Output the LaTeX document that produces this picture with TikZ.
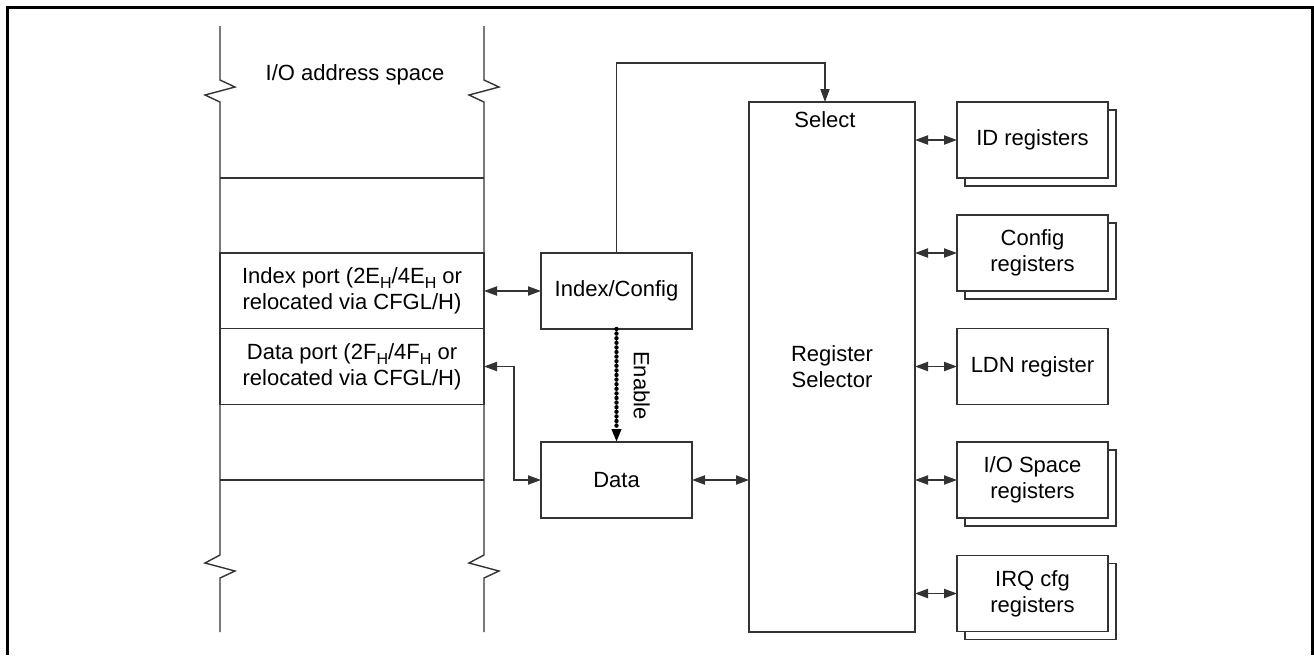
\documentclass[tikz,border=0pt]{standalone}
\usepackage{fontspec}
\setmainfont{Liberation Sans}
\usetikzlibrary{arrows.meta,shadows}
\tikzset{
  wire/.style={draw=black!80, line width=0.7pt},
  onetip/.style={-{Triangle[length=6.5pt,width=4.6pt]}},
  twotips/.style={{Triangle[length=6.5pt,width=4.6pt]}-{Triangle[length=6.5pt,width=4.6pt]}},
  blk/.style={draw=black!80, line width=0.7pt, fill=white, inner sep=0pt, outer sep=0pt,
    minimum width=75.5pt, minimum height=38pt, align=center},
  regbox/.style={blk, copy shadow={shadow xshift=4pt, shadow yshift=-4pt, fill=white, draw=black!80}},
  portrow/.style={blk, minimum width=132pt},
}
\newcommand{\lowsub}[1]{\raisebox{-0.45ex}{\fontsize{8}{8}\selectfont #1}}
\begin{document}
\begin{tikzpicture}[x=0.5pt, y=-0.5pt, font=\fontsize{11}{13}\selectfont]
  \useasboundingbox (0,0) rectangle (1314,655);
  % frame, open at the bottom
  \draw[line width=1.5pt] (7,655) -- (7,7) -- (1312,7) -- (1312,655);

  % I/O address space column
  \draw[wire] (220,26) -- (220,80) -- (235,87) -- (205,95) -- (220,102) -- (220,555)
    -- (205,563) -- (235,571) -- (220,578) -- (220,632);
  \draw[wire] (484,26) -- (484,80) -- (499,87) -- (469,95) -- (484,102) -- (484,555)
    -- (469,563) -- (499,571) -- (484,578) -- (484,632);
  \foreach \y in {178,480}
    \draw[wire] (220,\y) -- (484,\y);
  \node (iospace) at (355,75) {I/O address space};
  \node[portrow] (idxport) at (352,291) {Index port (2E\lowsub{H}/4E\lowsub{H} or\\relocated via CFGL/H)};
  \node[portrow] (dataport) at (352,366.5) {Data port (2F\lowsub{H}/4F\lowsub{H} or\\relocated via CFGL/H)};

  % index and data
  \node[blk] (idxcfg) at (616.5,291) {Index/Config};
  \node[blk] (data) at (616.5,480) {Data};

  % register selector
  \node[blk, minimum width=83pt, minimum height=265pt] (regsel) at (832,367) {Register\\Selector};
  \node (sellbl) at (825,120) {Select};

  % registers
  \node[regbox] (idreg) at (1032.5,140) {ID registers};
  \node[regbox] (cfgreg) at (1032.5,253) {Config\\registers};
  \node[blk] (ldnreg) at (1032.5,366.5) {LDN register};
  \node[regbox] (ioreg) at (1032.5,480) {I/O Space\\registers};
  \node[regbox] (irqreg) at (1032.5,593.5) {IRQ cfg\\registers};

  % connectors
  \draw[wire, twotips] (idxport.east) -- (idxcfg.west);
  \draw[wire, twotips] (dataport.east) -| ++(30,0) |- (data.west);
  \draw[wire, twotips] (data.east) -- (data.east -| regsel.west);
  \draw[wire, onetip] (idxcfg.north) -- ++(0,-190) -| (regsel.north -| sellbl);
  \draw[line width=2.2pt, dash pattern=on 0pt off 2.3pt, line cap=round,
    -{Triangle[length=6.5pt,width=4.6pt]}] (idxcfg.south) -- (data.north)
    node[midway, rotate=-90, anchor=south, inner sep=7.5pt] (enlbl) {Enable};
  \foreach \r in {idreg,cfgreg,ldnreg,ioreg,irqreg}
    \draw[wire, twotips] (\r.west -| regsel.east) -- (\r.west);
\end{tikzpicture}
\end{document}
